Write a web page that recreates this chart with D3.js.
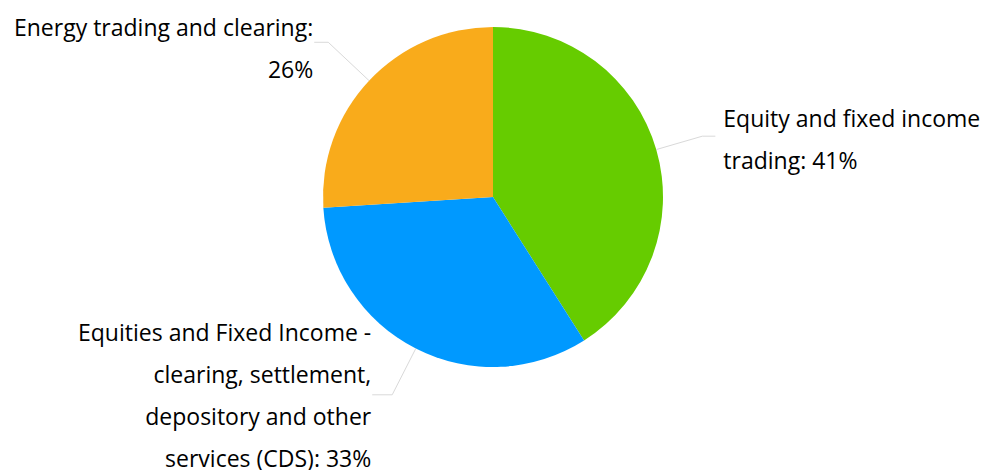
<!DOCTYPE html>
<html>
<head>
<meta charset="utf-8">
<script src="https://cdn.jsdelivr.net/npm/d3@7"></script>
<style>
  body { margin: 0; background: #fff; }
  svg { display: block; }
  text { font-family: "Open Sans", sans-serif; font-size: 23px; fill: #000; }
</style>
</head>
<body>
<svg id="pie" width="985" height="470"></svg>
<script>
// data
const categories = [
  "Equity and fixed income trading",
  "Equities and Fixed Income - clearing, settlement, depository and other services (CDS)",
  "Energy trading and clearing"
];
const shares = [41, 33, 26];
const colors = ["#66cc00", "#0099ff", "#f9ab1b"];
// how each label is broken into lines (text only)
const labelLines = [
  ["Equity and fixed income", "trading: 41%"],
  ["Equities and Fixed Income -", "clearing, settlement,", "depository and other", "services (CDS): 33%"],
  ["Energy trading and clearing:", "26%"]
];

const svg = d3.select("#pie");
const cx = 493, cy = 197, radius = 170;
const lineH = 42;
// leader line layout per label: elbow radius, horizontal run, label nudge
const elbowR = [218, 222, 226];
const runLen = [13, 20, 14];
const nudgeY = [12, 9, 15];

const g = svg.append("g").attr("transform", `translate(${cx},${cy})`);

const pie = d3.pie().sort(null).value(d => d)(shares);
const arc = d3.arc().innerRadius(0).outerRadius(radius);

g.selectAll("path.slice")
  .data(pie)
  .enter().append("path")
  .attr("class", "slice")
  .attr("d", arc)
  .attr("fill", (d, i) => colors[i]);

// leader lines + labels
pie.forEach((d, i) => {
  const mid = (d.startAngle + d.endAngle) / 2;
  const sx = radius * Math.sin(mid), sy = -radius * Math.cos(mid);
  const ex = elbowR[i] * Math.sin(mid), ey = -elbowR[i] * Math.cos(mid);
  const right = Math.sin(mid) > 0;
  const hx = ex + (right ? runLen[i] : -runLen[i]);

  g.append("polyline")
    .attr("points", [[sx, sy], [ex, ey], [hx, ey]].map(p => p.join(",")).join(" "))
    .attr("fill", "none")
    .attr("stroke", "#d9d9d9")
    .attr("stroke-width", 1);

  const lines = labelLines[i];
  const tx = right ? hx + 8 : hx - 1;
  const firstBase = ey + nudgeY[i] - (lines.length - 1) * lineH / 2;
  const t = g.append("text")
    .attr("text-anchor", right ? "start" : "end")
    .attr("x", tx)
    .attr("y", firstBase);
  lines.forEach((ln, k) => {
    t.append("tspan")
      .attr("x", tx)
      .attr("y", firstBase + k * lineH)
      .text(ln);
  });
});
</script>
</body>
</html>
